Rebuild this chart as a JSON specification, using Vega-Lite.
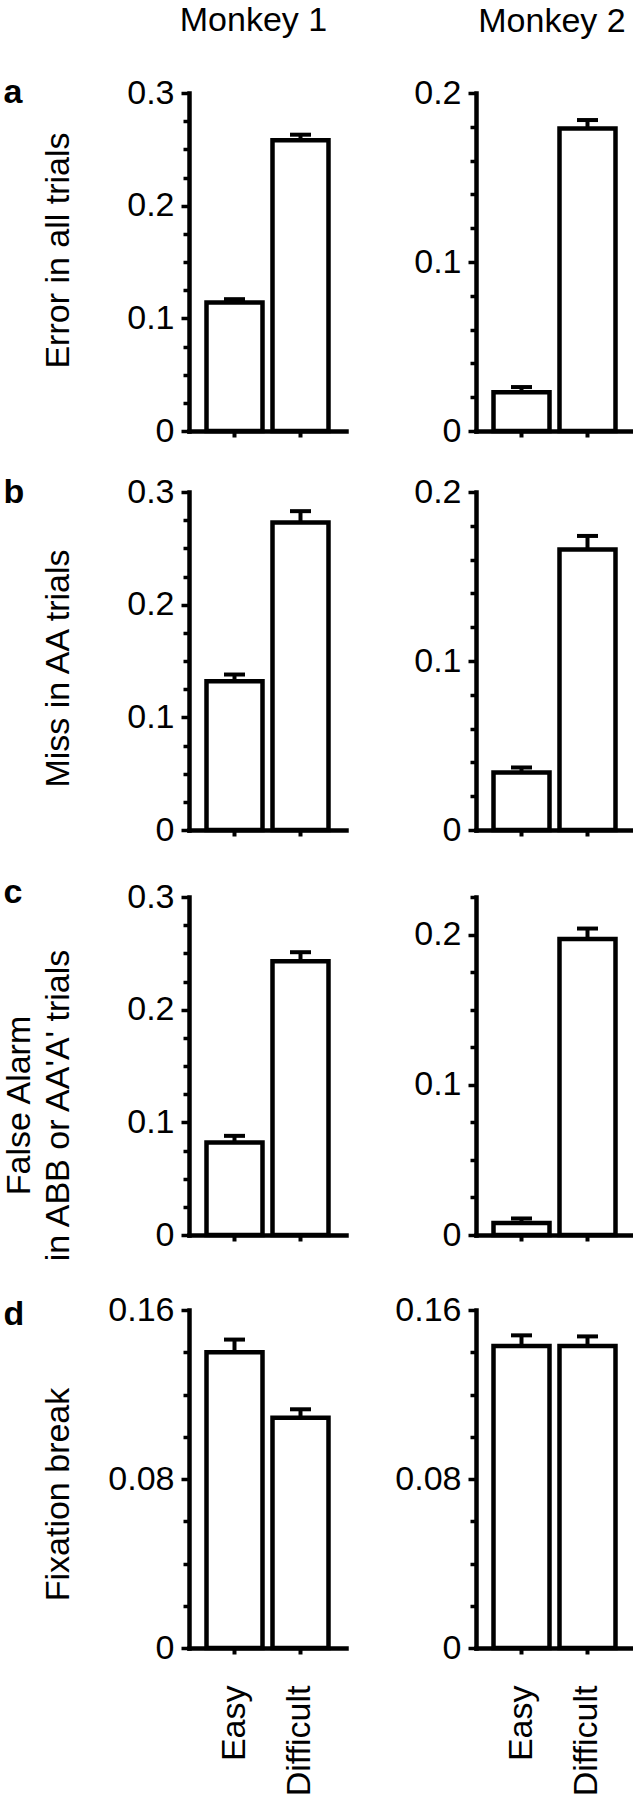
{
  "$schema": "https://vega.github.io/schema/vega-lite/v6.json",
  "background": "white",
  "padding": {"left": 1, "top": 4, "right": 0, "bottom": 0},
  "columns": 2,
  "bounds": "flush",
  "spacing": {"row": 61, "column": 130},
  "config": {
    "view": {"stroke": null},
    "font": "Liberation Sans",
    "axis": {"grid": false, "domainColor": "black", "domainWidth": 4.5, "domainCap": "square", "tickColor": "black", "tickWidth": 4, "labelColor": "black", "labelFont": "Liberation Sans", "labelFontSize": 34, "titleFont": "Liberation Sans", "titleFontSize": 34, "titleFontWeight": "normal", "titleColor": "black", "labelOverlap": false, "labelFlush": false},
    "title": {"font": "Liberation Sans", "fontSize": 34, "fontWeight": "normal", "color": "black", "anchor": "middle", "frame": "group"},
    "tick": {"opacity": 1}
  },
  "datasets": {
    "a1": [{"cond": "Easy", "value": 0.114, "upper": 0.117}, {"cond": "Difficult", "value": 0.258, "upper": 0.263}],
    "a2": [{"cond": "Easy", "value": 0.023, "upper": 0.026}, {"cond": "Difficult", "value": 0.179, "upper": 0.184}],
    "b1": [{"cond": "Easy", "value": 0.132, "upper": 0.138}, {"cond": "Difficult", "value": 0.273, "upper": 0.283}],
    "b2": [{"cond": "Easy", "value": 0.034, "upper": 0.037}, {"cond": "Difficult", "value": 0.166, "upper": 0.174}],
    "c1": [{"cond": "Easy", "value": 0.082, "upper": 0.088}, {"cond": "Difficult", "value": 0.243, "upper": 0.251}],
    "c2": [{"cond": "Easy", "value": 0.008, "upper": 0.011}, {"cond": "Difficult", "value": 0.197, "upper": 0.204}],
    "d1": [{"cond": "Easy", "value": 0.140, "upper": 0.146}, {"cond": "Difficult", "value": 0.109, "upper": 0.113}],
    "d2": [{"cond": "Easy", "value": 0.143, "upper": 0.148}, {"cond": "Difficult", "value": 0.143, "upper": 0.1475}]
  },
  "concat": [
    {
      "width": 157, "height": 338,
      "title": {"text": "Monkey 1", "dx": -14, "offset": 37},
      "data": {"name": "a1"},
      "resolve": {"axis": {"x": "independent", "y": "independent"}},
      "layer": [
        {"mark": {"type": "bar", "fill": "white", "stroke": "black", "strokeWidth": 4.5},
         "encoding": {
           "x": {"field": "cond", "type": "nominal", "scale": {"domain": ["Easy", "Difficult"], "paddingInner": 0.1515, "paddingOuter": 0.2652}, "axis": {"orient": "bottom", "title": null, "labels": false, "tickSize": 6, "tickWidth": 4}},
           "y": {"field": "value", "type": "quantitative", "scale": {"domain": [0, 0.3], "range": [338, 0], "nice": false},
                 "axis": {"title": "Error in all trials", "titleX": -121, "titleY": 157, "titleAngle": -90, "titleAlign": "center", "titleBaseline": "alphabetic", "values": [0, 0.025, 0.05, 0.075, 0.1, 0.125, 0.15, 0.175, 0.2, 0.225, 0.25, 0.275, 0.3], "format": "~g", "labelExpr": "indexof([0,0.1,0.2,0.3], datum.value) >= 0 ? datum.label : ''", "tickSize": {"condition": {"test": "indexof([0,0.1,0.2,0.3], datum.value) >= 0", "value": 8}, "value": 6}, "tickWidth": 3.5, "labelPadding": 7}}}},
        {"mark": {"type": "rule", "strokeWidth": 4, "color": "black"},
         "encoding": {
           "x": {"field": "cond", "type": "nominal", "scale": {"domain": ["Easy", "Difficult"], "paddingInner": 0.1515, "paddingOuter": 0.2652}, "axis": {"orient": "top", "title": "a", "titleX": -186, "titleY": 9, "titleAngle": 0, "titleAlign": "left", "titleBaseline": "alphabetic", "titleFontWeight": "bold", "labels": false, "ticks": false, "domain": false}},
           "y": {"field": "value", "type": "quantitative", "scale": {"domain": [0, 0.3], "range": [338, 0], "nice": false}, "axis": null},
           "y2": {"field": "upper"}}},
        {"mark": {"type": "tick", "thickness": 4, "size": 21, "color": "black", "opacity": 1},
         "encoding": {
           "x": {"field": "cond", "type": "nominal", "scale": {"domain": ["Easy", "Difficult"], "paddingInner": 0.1515, "paddingOuter": 0.2652}, "axis": null},
           "y": {"field": "upper", "type": "quantitative", "scale": {"domain": [0, 0.3], "range": [338, 0], "nice": false}, "axis": null}}}
      ]
    },
    {
      "width": 157, "height": 338,
      "title": {"text": "Monkey 2", "dx": -2.5, "offset": 37},
      "data": {"name": "a2"},
      "resolve": {"axis": {"x": "independent", "y": "independent"}},
      "layer": [
        {"mark": {"type": "bar", "fill": "white", "stroke": "black", "strokeWidth": 4.5},
         "encoding": {
           "x": {"field": "cond", "type": "nominal", "scale": {"domain": ["Easy", "Difficult"], "paddingInner": 0.1515, "paddingOuter": 0.2652}, "axis": {"orient": "bottom", "title": null, "labels": false, "tickSize": 6, "tickWidth": 4}},
           "y": {"field": "value", "type": "quantitative", "scale": {"domain": [0, 0.2], "range": [338, 0], "nice": false},
                 "axis": {"title": null, "values": [0, 0.02, 0.04, 0.06, 0.08, 0.1, 0.12, 0.14, 0.16, 0.18, 0.2], "format": "~g", "labelExpr": "indexof([0,0.1,0.2], datum.value) >= 0 ? datum.label : ''", "tickSize": {"condition": {"test": "indexof([0,0.1,0.2], datum.value) >= 0", "value": 8}, "value": 6}, "tickWidth": 3.5, "labelPadding": 7}}}},
        {"mark": {"type": "rule", "strokeWidth": 4, "color": "black"},
         "encoding": {
           "x": {"field": "cond", "type": "nominal", "scale": {"domain": ["Easy", "Difficult"], "paddingInner": 0.1515, "paddingOuter": 0.2652}, "axis": null},
           "y": {"field": "value", "type": "quantitative", "scale": {"domain": [0, 0.2], "range": [338, 0], "nice": false}, "axis": null},
           "y2": {"field": "upper"}}},
        {"mark": {"type": "tick", "thickness": 4, "size": 21, "color": "black", "opacity": 1},
         "encoding": {
           "x": {"field": "cond", "type": "nominal", "scale": {"domain": ["Easy", "Difficult"], "paddingInner": 0.1515, "paddingOuter": 0.2652}, "axis": null},
           "y": {"field": "upper", "type": "quantitative", "scale": {"domain": [0, 0.2], "range": [338, 0], "nice": false}, "axis": null}}}
      ]
    },
    {
      "width": 157, "height": 338,
      "data": {"name": "b1"},
      "resolve": {"axis": {"x": "independent", "y": "independent"}},
      "layer": [
        {"mark": {"type": "bar", "fill": "white", "stroke": "black", "strokeWidth": 4.5},
         "encoding": {
           "x": {"field": "cond", "type": "nominal", "scale": {"domain": ["Easy", "Difficult"], "paddingInner": 0.1515, "paddingOuter": 0.2652}, "axis": {"orient": "bottom", "title": null, "labels": false, "tickSize": 6, "tickWidth": 4}},
           "y": {"field": "value", "type": "quantitative", "scale": {"domain": [0, 0.3], "range": [338, 0], "nice": false},
                 "axis": {"title": "Miss in AA trials", "titleX": -121, "titleY": 176, "titleAngle": -90, "titleAlign": "center", "titleBaseline": "alphabetic", "values": [0, 0.025, 0.05, 0.075, 0.1, 0.125, 0.15, 0.175, 0.2, 0.225, 0.25, 0.275, 0.3], "format": "~g", "labelExpr": "indexof([0,0.1,0.2,0.3], datum.value) >= 0 ? datum.label : ''", "tickSize": {"condition": {"test": "indexof([0,0.1,0.2,0.3], datum.value) >= 0", "value": 8}, "value": 6}, "tickWidth": 3.5, "labelPadding": 7}}}},
        {"mark": {"type": "rule", "strokeWidth": 4, "color": "black"},
         "encoding": {
           "x": {"field": "cond", "type": "nominal", "scale": {"domain": ["Easy", "Difficult"], "paddingInner": 0.1515, "paddingOuter": 0.2652}, "axis": {"orient": "top", "title": "b", "titleX": -186, "titleY": 10, "titleAngle": 0, "titleAlign": "left", "titleBaseline": "alphabetic", "titleFontWeight": "bold", "labels": false, "ticks": false, "domain": false}},
           "y": {"field": "value", "type": "quantitative", "scale": {"domain": [0, 0.3], "range": [338, 0], "nice": false}, "axis": null},
           "y2": {"field": "upper"}}},
        {"mark": {"type": "tick", "thickness": 4, "size": 21, "color": "black", "opacity": 1},
         "encoding": {
           "x": {"field": "cond", "type": "nominal", "scale": {"domain": ["Easy", "Difficult"], "paddingInner": 0.1515, "paddingOuter": 0.2652}, "axis": null},
           "y": {"field": "upper", "type": "quantitative", "scale": {"domain": [0, 0.3], "range": [338, 0], "nice": false}, "axis": null}}}
      ]
    },
    {
      "width": 157, "height": 338,
      "data": {"name": "b2"},
      "resolve": {"axis": {"x": "independent", "y": "independent"}},
      "layer": [
        {"mark": {"type": "bar", "fill": "white", "stroke": "black", "strokeWidth": 4.5},
         "encoding": {
           "x": {"field": "cond", "type": "nominal", "scale": {"domain": ["Easy", "Difficult"], "paddingInner": 0.1515, "paddingOuter": 0.2652}, "axis": {"orient": "bottom", "title": null, "labels": false, "tickSize": 6, "tickWidth": 4}},
           "y": {"field": "value", "type": "quantitative", "scale": {"domain": [0, 0.2], "range": [338, 0], "nice": false},
                 "axis": {"title": null, "values": [0, 0.02, 0.04, 0.06, 0.08, 0.1, 0.12, 0.14, 0.16, 0.18, 0.2], "format": "~g", "labelExpr": "indexof([0,0.1,0.2], datum.value) >= 0 ? datum.label : ''", "tickSize": {"condition": {"test": "indexof([0,0.1,0.2], datum.value) >= 0", "value": 8}, "value": 6}, "tickWidth": 3.5, "labelPadding": 7}}}},
        {"mark": {"type": "rule", "strokeWidth": 4, "color": "black"},
         "encoding": {
           "x": {"field": "cond", "type": "nominal", "scale": {"domain": ["Easy", "Difficult"], "paddingInner": 0.1515, "paddingOuter": 0.2652}, "axis": null},
           "y": {"field": "value", "type": "quantitative", "scale": {"domain": [0, 0.2], "range": [338, 0], "nice": false}, "axis": null},
           "y2": {"field": "upper"}}},
        {"mark": {"type": "tick", "thickness": 4, "size": 21, "color": "black", "opacity": 1},
         "encoding": {
           "x": {"field": "cond", "type": "nominal", "scale": {"domain": ["Easy", "Difficult"], "paddingInner": 0.1515, "paddingOuter": 0.2652}, "axis": null},
           "y": {"field": "upper", "type": "quantitative", "scale": {"domain": [0, 0.2], "range": [338, 0], "nice": false}, "axis": null}}}
      ]
    },
    {
      "width": 157, "height": 344,
      "data": {"name": "c1"},
      "resolve": {"axis": {"x": "independent", "y": "independent"}},
      "layer": [
        {"mark": {"type": "bar", "fill": "white", "stroke": "black", "strokeWidth": 4.5},
         "encoding": {
           "x": {"field": "cond", "type": "nominal", "scale": {"domain": ["Easy", "Difficult"], "paddingInner": 0.1515, "paddingOuter": 0.2652}, "axis": {"orient": "bottom", "title": null, "labels": false, "tickSize": 6, "tickWidth": 4}},
           "y": {"field": "value", "type": "quantitative", "scale": {"domain": [0, 0.3], "range": [344, 6], "nice": false},
                 "axis": {"title": ["False Alarm", "in ABB or AA'A' trials"], "titleX": -160, "titleY": 214, "titleLineHeight": 39, "titleAngle": -90, "titleAlign": "center", "titleBaseline": "alphabetic", "values": [0, 0.025, 0.05, 0.075, 0.1, 0.125, 0.15, 0.175, 0.2, 0.225, 0.25, 0.275, 0.3], "format": "~g", "labelExpr": "indexof([0,0.1,0.2,0.3], datum.value) >= 0 ? datum.label : ''", "tickSize": {"condition": {"test": "indexof([0,0.1,0.2,0.3], datum.value) >= 0", "value": 8}, "value": 6}, "tickWidth": 3.5, "labelPadding": 7}}}},
        {"mark": {"type": "rule", "strokeWidth": 4, "color": "black"},
         "encoding": {
           "x": {"field": "cond", "type": "nominal", "scale": {"domain": ["Easy", "Difficult"], "paddingInner": 0.1515, "paddingOuter": 0.2652}, "axis": {"orient": "top", "title": "c", "titleX": -186, "titleY": 11, "titleAngle": 0, "titleAlign": "left", "titleBaseline": "alphabetic", "titleFontWeight": "bold", "labels": false, "ticks": false, "domain": false}},
           "y": {"field": "value", "type": "quantitative", "scale": {"domain": [0, 0.3], "range": [344, 6], "nice": false}, "axis": null},
           "y2": {"field": "upper"}}},
        {"mark": {"type": "tick", "thickness": 4, "size": 21, "color": "black", "opacity": 1},
         "encoding": {
           "x": {"field": "cond", "type": "nominal", "scale": {"domain": ["Easy", "Difficult"], "paddingInner": 0.1515, "paddingOuter": 0.2652}, "axis": null},
           "y": {"field": "upper", "type": "quantitative", "scale": {"domain": [0, 0.3], "range": [344, 6], "nice": false}, "axis": null}}}
      ]
    },
    {
      "width": 157, "height": 344,
      "data": {"name": "c2"},
      "resolve": {"axis": {"x": "independent", "y": "independent"}},
      "layer": [
        {"mark": {"type": "bar", "fill": "white", "stroke": "black", "strokeWidth": 4.5},
         "encoding": {
           "x": {"field": "cond", "type": "nominal", "scale": {"domain": ["Easy", "Difficult"], "paddingInner": 0.1515, "paddingOuter": 0.2652}, "axis": {"orient": "bottom", "title": null, "labels": false, "tickSize": 6, "tickWidth": 4}},
           "y": {"field": "value", "type": "quantitative", "scale": {"domain": [0, 0.225], "range": [344, 6], "nice": false},
                 "axis": {"title": null, "values": [0, 0.025, 0.05, 0.075, 0.1, 0.125, 0.15, 0.175, 0.2, 0.225], "format": "~g", "labelExpr": "indexof([0,0.1,0.2], datum.value) >= 0 ? datum.label : ''", "tickSize": {"condition": {"test": "indexof([0,0.1,0.2], datum.value) >= 0", "value": 8}, "value": 6}, "tickWidth": 3.5, "labelPadding": 7}}}},
        {"mark": {"type": "rule", "strokeWidth": 4, "color": "black"},
         "encoding": {
           "x": {"field": "cond", "type": "nominal", "scale": {"domain": ["Easy", "Difficult"], "paddingInner": 0.1515, "paddingOuter": 0.2652}, "axis": null},
           "y": {"field": "value", "type": "quantitative", "scale": {"domain": [0, 0.225], "range": [344, 6], "nice": false}, "axis": null},
           "y2": {"field": "upper"}}},
        {"mark": {"type": "tick", "thickness": 4, "size": 21, "color": "black", "opacity": 1},
         "encoding": {
           "x": {"field": "cond", "type": "nominal", "scale": {"domain": ["Easy", "Difficult"], "paddingInner": 0.1515, "paddingOuter": 0.2652}, "axis": null},
           "y": {"field": "upper", "type": "quantitative", "scale": {"domain": [0, 0.225], "range": [344, 6], "nice": false}, "axis": null}}}
      ]
    },
    {
      "width": 157, "height": 352,
      "data": {"name": "d1"},
      "resolve": {"axis": {"x": "independent", "y": "independent"}},
      "layer": [
        {"mark": {"type": "bar", "fill": "white", "stroke": "black", "strokeWidth": 4.5},
         "encoding": {
           "x": {"field": "cond", "type": "nominal", "scale": {"domain": ["Easy", "Difficult"], "paddingInner": 0.1515, "paddingOuter": 0.2652}, "axis": {"orient": "bottom", "title": null, "labelAngle": -90, "labelPadding": 31, "tickSize": 6, "tickWidth": 4}},
           "y": {"field": "value", "type": "quantitative", "scale": {"domain": [0, 0.16], "range": [352, 14], "nice": false},
                 "axis": {"title": "Fixation break", "titleX": -121, "titleY": 198, "titleAngle": -90, "titleAlign": "center", "titleBaseline": "alphabetic", "values": [0, 0.02, 0.04, 0.06, 0.08, 0.1, 0.12, 0.14, 0.16], "format": "~g", "labelExpr": "indexof([0,0.08,0.16], datum.value) >= 0 ? datum.label : ''", "tickSize": {"condition": {"test": "indexof([0,0.08,0.16], datum.value) >= 0", "value": 8}, "value": 6}, "tickWidth": 3.5, "labelPadding": 7}}}},
        {"mark": {"type": "rule", "strokeWidth": 4, "color": "black"},
         "encoding": {
           "x": {"field": "cond", "type": "nominal", "scale": {"domain": ["Easy", "Difficult"], "paddingInner": 0.1515, "paddingOuter": 0.2652}, "axis": {"orient": "top", "title": "d", "titleX": -186, "titleY": 28, "titleAngle": 0, "titleAlign": "left", "titleBaseline": "alphabetic", "titleFontWeight": "bold", "labels": false, "ticks": false, "domain": false}},
           "y": {"field": "value", "type": "quantitative", "scale": {"domain": [0, 0.16], "range": [352, 14], "nice": false}, "axis": null},
           "y2": {"field": "upper"}}},
        {"mark": {"type": "tick", "thickness": 4, "size": 21, "color": "black", "opacity": 1},
         "encoding": {
           "x": {"field": "cond", "type": "nominal", "scale": {"domain": ["Easy", "Difficult"], "paddingInner": 0.1515, "paddingOuter": 0.2652}, "axis": null},
           "y": {"field": "upper", "type": "quantitative", "scale": {"domain": [0, 0.16], "range": [352, 14], "nice": false}, "axis": null}}}
      ]
    },
    {
      "width": 157, "height": 352,
      "data": {"name": "d2"},
      "resolve": {"axis": {"x": "independent", "y": "independent"}},
      "layer": [
        {"mark": {"type": "bar", "fill": "white", "stroke": "black", "strokeWidth": 4.5},
         "encoding": {
           "x": {"field": "cond", "type": "nominal", "scale": {"domain": ["Easy", "Difficult"], "paddingInner": 0.1515, "paddingOuter": 0.2652}, "axis": {"orient": "bottom", "title": null, "labelAngle": -90, "labelPadding": 31, "tickSize": 6, "tickWidth": 4}},
           "y": {"field": "value", "type": "quantitative", "scale": {"domain": [0, 0.16], "range": [352, 14], "nice": false},
                 "axis": {"title": null, "values": [0, 0.02, 0.04, 0.06, 0.08, 0.1, 0.12, 0.14, 0.16], "format": "~g", "labelExpr": "indexof([0,0.08,0.16], datum.value) >= 0 ? datum.label : ''", "tickSize": {"condition": {"test": "indexof([0,0.08,0.16], datum.value) >= 0", "value": 8}, "value": 6}, "tickWidth": 3.5, "labelPadding": 7}}}},
        {"mark": {"type": "rule", "strokeWidth": 4, "color": "black"},
         "encoding": {
           "x": {"field": "cond", "type": "nominal", "scale": {"domain": ["Easy", "Difficult"], "paddingInner": 0.1515, "paddingOuter": 0.2652}, "axis": null},
           "y": {"field": "value", "type": "quantitative", "scale": {"domain": [0, 0.16], "range": [352, 14], "nice": false}, "axis": null},
           "y2": {"field": "upper"}}},
        {"mark": {"type": "tick", "thickness": 4, "size": 21, "color": "black", "opacity": 1},
         "encoding": {
           "x": {"field": "cond", "type": "nominal", "scale": {"domain": ["Easy", "Difficult"], "paddingInner": 0.1515, "paddingOuter": 0.2652}, "axis": null},
           "y": {"field": "upper", "type": "quantitative", "scale": {"domain": [0, 0.16], "range": [352, 14], "nice": false}, "axis": null}}}
      ]
    }
  ]
}
